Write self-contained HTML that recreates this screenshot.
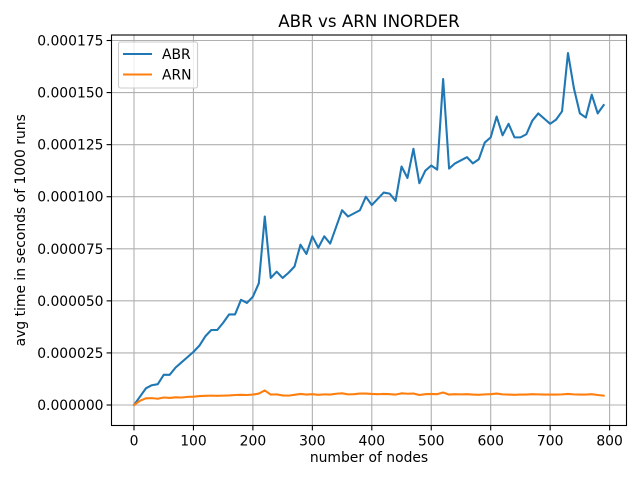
<!DOCTYPE html>
<html><head><meta charset="utf-8"><style>
body{margin:0;background:#fff;font-family:"DejaVu Sans","Liberation Sans",sans-serif;}
svg text{font-family:"DejaVu Sans","Liberation Sans",sans-serif;}
</style></head><body>
<svg id="chart" width="640" height="480" xmlns="http://www.w3.org/2000/svg">
<rect width="640" height="480" fill="#fff"/>
<g id="grid"></g><g id="series"></g><g id="axes"></g>
</svg>
<script>
const nodes = [];
for (let n = 0; n <= 790; n += 10) nodes.push(n);
const abrValues = [0,4,8,9.5,10,14.5,14.5,18,20.5,23,25.5,28.5,33,36,36,39.5,43.5,43.5,50.5,49,52,58.5,90.5,61,64,61,63.5,66.5,77,72.5,81,75.5,81,77.5,85.5,93.5,90.5,92,93.5,100,96,99,102,101.5,98,114.5,109,123,106.5,112.5,115,113,156.5,113.5,116,117.5,119,116,118,126,128.5,138.5,129.5,135,128.5,128.5,130,136.5,140,137.5,135,137,141,169,152,140,138,149,140,144];
const arnValues = [0,2,3.2,3.3,3,3.6,3.4,3.7,3.6,3.9,4,4.3,4.4,4.5,4.4,4.5,4.6,4.8,4.9,4.8,5,5.5,7,5,5.1,4.6,4.5,4.9,5.3,5,5.2,4.9,5.1,5,5.4,5.6,5.1,5.2,5.5,5.5,5.3,5.2,5.3,5.2,5,5.6,5.4,5.5,4.8,5.2,5.3,5.2,6,5,5.2,5.1,5.2,5,4.9,5.1,5.2,5.5,5.1,5,4.9,5,5,5.2,5.1,5,5,5,5.1,5.3,5.1,5,5,5.2,4.8,4.5];
const xTicks = [0,100,200,300,400,500,600,700,800];
const yTicks = [0,25,50,75,100,125,150,175];
const yTickLabels = ["0.000000","0.000025","0.000050","0.000075","0.000100","0.000125","0.000150","0.000175"];

const L=111.5,R=626.5,T=35,B=425.5;
const FS=13.9;
const xs = v => 134 + v*0.5945;
const ys = v => 405 - v*2.0828;
const NS="http://www.w3.org/2000/svg";
function mk(tag, attrs, parent){const e=document.createElementNS(NS,tag);for(const k in attrs)e.setAttribute(k,attrs[k]);parent.appendChild(e);return e;}
const grid=document.getElementById('grid'),series=document.getElementById('series'),axes=document.getElementById('axes');

xTicks.forEach(t=>{
  const x=xs(t);
  const g=mk('line',{x1:x,x2:x,y1:T,y2:B,stroke:'#b0b0b0','stroke-width':1.1},grid);
  
  
  mk('line',{x1:x,x2:x,y1:B,y2:B+4.9,stroke:'#000','stroke-width':1.1},axes);
  const tx=mk('text',{x:x,y:B+20,'font-size':FS,'text-anchor':'middle',fill:'#000'},axes);
  tx.textContent=t;
  
  
});
yTicks.forEach((t,i)=>{
  const y=ys(t);
  const g=mk('line',{x1:L,x2:R,y1:y,y2:y,stroke:'#b0b0b0','stroke-width':1.1},grid);
  
  
  mk('line',{x1:L-4.9,x2:L,y1:y,y2:y,stroke:'#000','stroke-width':1.1},axes);
  const tx=mk('text',{x:L-8,y:y+5,'font-size':FS,'text-anchor':'end',fill:'#000'},axes);
  tx.textContent=yTickLabels[i];
  
  
});
function line(vals,color,name){
  const p=mk('polyline',{points:vals.map((v,i)=>xs(nodes[i])+','+ys(v)).join(' '),fill:'none',stroke:color,'stroke-width':2.08,'stroke-linejoin':'round','stroke-linecap':'square'},series);
  
  
}
line(abrValues,'#1f77b4','abr-line');
line(arnValues,'#ff7f0e','arn-line');
const frame=mk('rect',{x:L,y:T,width:R-L,height:B-T,fill:'none',stroke:'#000','stroke-width':1.1},axes);


const title=mk('text',{x:(L+R)/2,y:27,'font-size':16.7,'text-anchor':'middle'},axes);
title.textContent='ABR vs ARN INORDER';


const xl=mk('text',{x:(L+R)/2,y:462,'font-size':FS,'text-anchor':'middle'},axes);
xl.textContent='number of nodes';


const yl=mk('text',{x:0,y:0,'font-size':FS,'text-anchor':'middle',transform:'translate(25,'+((T+B)/2)+') rotate(-90)'},axes);
yl.textContent='avg time in seconds of 1000 runs';


const lg=mk('g',{},axes);


mk('rect',{x:118.5,y:42,width:79,height:46,rx:2,fill:'#fff','fill-opacity':0.8,stroke:'#ccc','stroke-width':1.1},lg);
[['ABR','#1f77b4',54],['ARN','#ff7f0e',74.5]].forEach(([n,c,y])=>{
  const e=mk('g',{},lg);
  
  
  mk('line',{x1:123,x2:152,y1:y,y2:y,stroke:c,'stroke-width':2.08},e);
  const t=mk('text',{x:162,y:y+5,'font-size':FS},e);
  t.textContent=n;
});
</script>
</body></html>
